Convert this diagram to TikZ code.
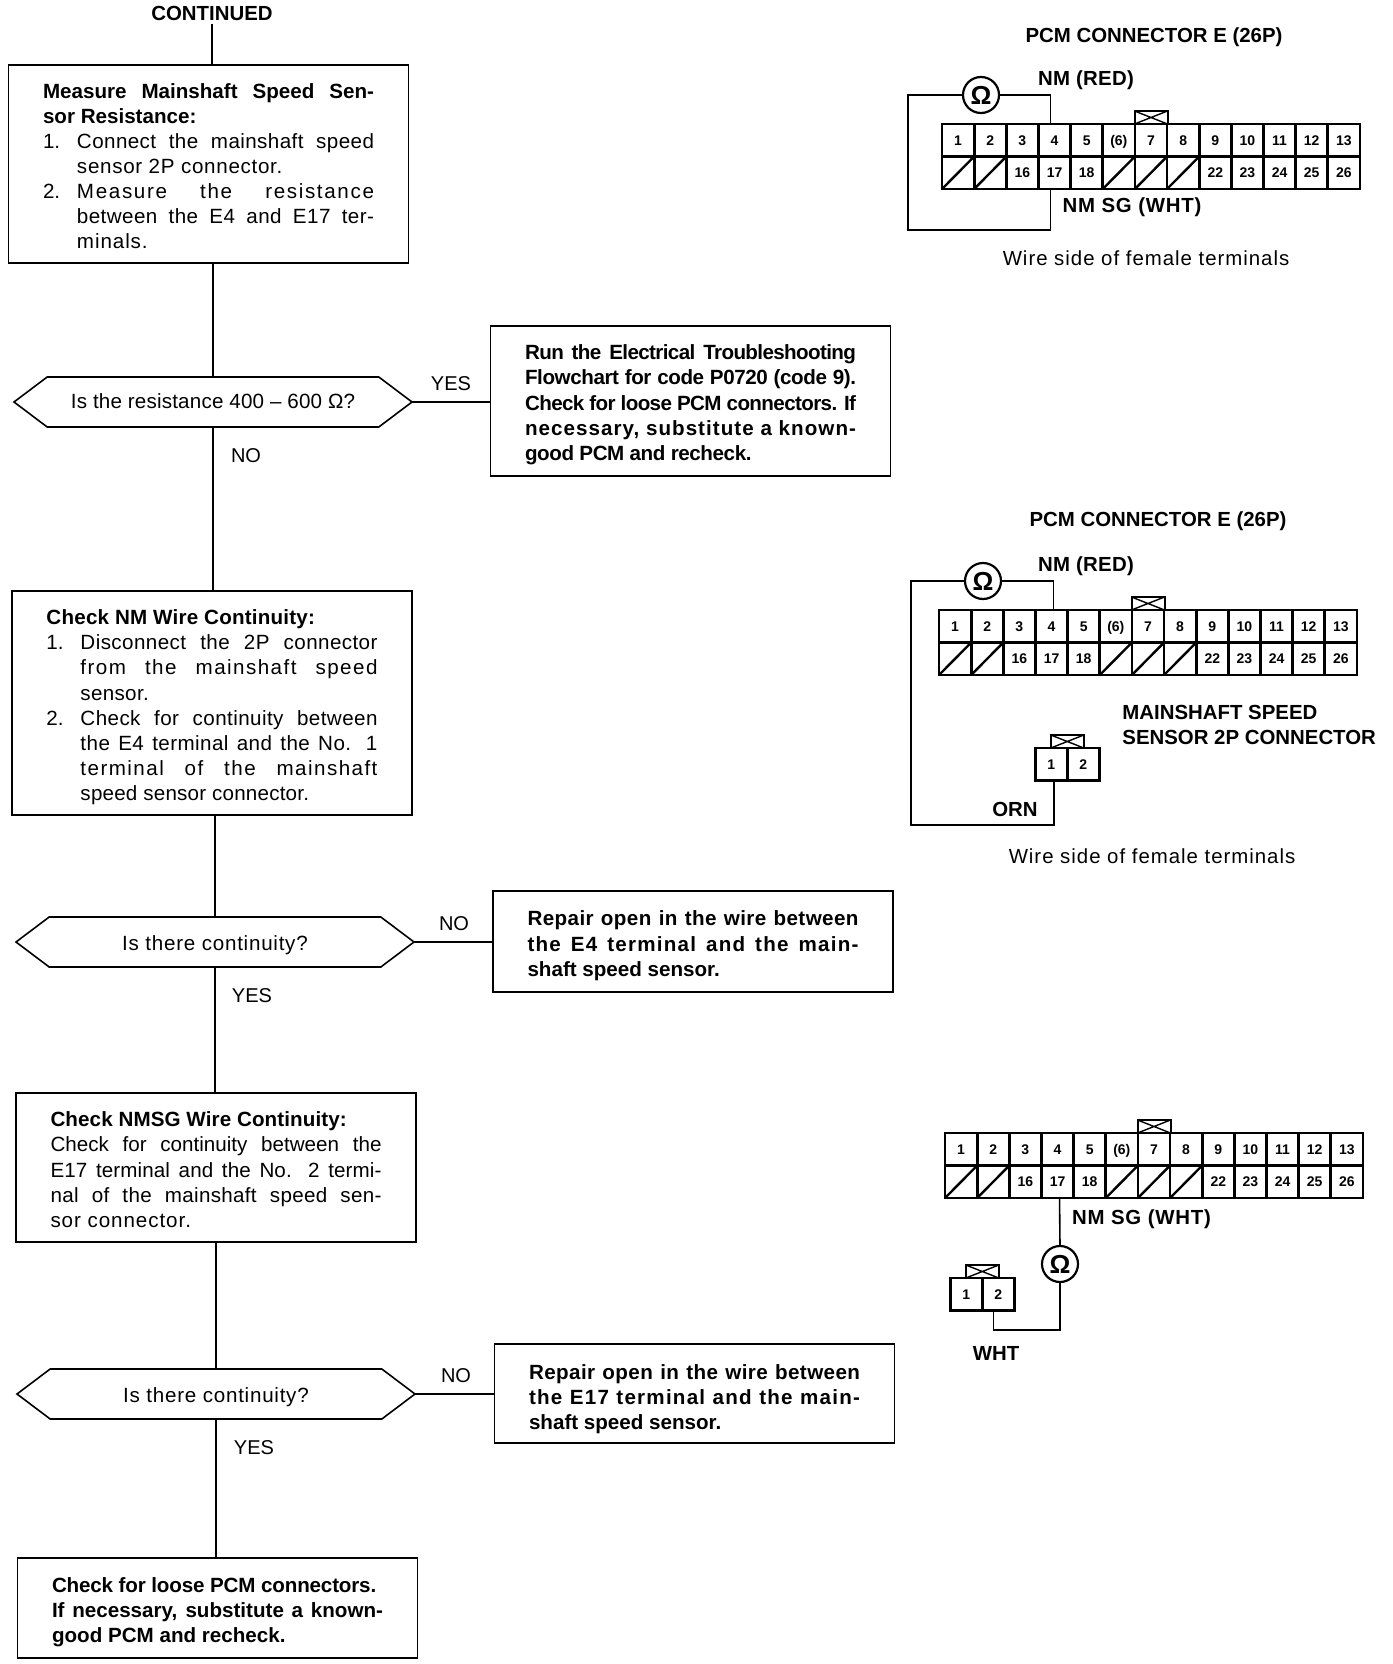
\documentclass[tikz,border=0pt]{standalone}
\usepackage{fontspec}
\setmainfont{Liberation Sans}
\usetikzlibrary{shapes.symbols,calc}
\newcommand{\bodyfont}{\fontsize{10.3}{12.55}\selectfont}
\newcommand{\spaced}[2][6]{{\addfontfeature{LetterSpace=#1}#2}}
\newcommand{\dropby}[1]{\rule{0pt}{\dimexpr 7.5pt+#1\relax}}
\newcommand{\hexlabel}[3]{\raisebox{#1}[0pt][0pt]{\spaced[#2]{#3}}}
\newcommand{\stepitem}[2]{\par\noindent\hangindent=17pt\hangafter=1\makebox[17pt][l]{#1}#2\par}
\tikzset{
  flowbox/.style={draw,line width=.8pt,inner sep=0pt,outer sep=0pt,minimum width=200pt,text width=165.5pt,align=justify,font=\bodyfont},
  hexbox/.style={draw,line width=.8pt,shape=signal,signal to=east and west,signal pointer angle=74,inner sep=0pt,outer sep=0pt,minimum width=199pt,minimum height=25pt,font=\bodyfont},
  link/.style={line width=.7pt},
  wire/.style={line width=.8pt},
  answer/.style={inner sep=0pt,font=\fontsize{10}{12}\selectfont},
  lab/.style={inner sep=0pt,align=left,font=\fontsize{10.2}{12.5}\selectfont\bfseries},
  note/.style={inner sep=0pt,font=\fontsize{10.2}{12}\selectfont},
  cell/.style={draw,line width=1.4pt,inner sep=0pt,outer sep=0pt,minimum width=16.07pt,minimum height=16.25pt,text height=5pt,text depth=0pt,font=\fontsize{7}{8}\selectfont\bfseries},
  tabbox/.style={draw,line width=1pt,inner sep=0pt,outer sep=0pt,minimum width=16.5pt,minimum height=6.5pt},
  ohmmeter/.style={draw,circle,line width=1.1pt,inner sep=0pt,outer sep=0pt,minimum size=18pt,font=\fontsize{13}{13}\selectfont\bfseries}
}
% tab with its cross, on top of a connector
\newcommand{\conntab}[3]{%
  \node[tabbox] (#1) at (#2,#3) {};
  \draw[line width=.7pt] (#1.north west) -- (#1.south east) (#1.south west) -- (#1.north east);
}
\newcommand{\pcmconn}[3]{%
  \foreach \lab [count=\n] in {1,2,3,4,5,{(6)},7,8,9,10,11,12,13}{% upper row
    \node[cell] (#1a\n) at ({#2+(\n-0.5)*32.15},{#3+16.25}) {\lab};
  }
  \foreach \n/\lab in {3/16,4/17,5/18,9/22,10/23,11/24,12/25,13/26}{% lower row
    \node[cell] (#1b\n) at ({#2+(\n-0.5)*32.15},{#3+48.75}) {\lab};
  }
  \foreach \n in {1,2,6,7,8}{% blanked cavities
    \node[cell] (#1b\n) at ({#2+(\n-0.5)*32.15},{#3+48.75}) {};
    \draw[line width=1.2pt] (#1b\n.south west) -- (#1b\n.north east);
  }
  \conntab{#1tab}{#2+209}{#3-6.5}
}
\newcommand{\twopconn}[3]{%
  \node[cell] (#1a1) at ({#2+16.25},{#3+16.25}) {1};
  \node[cell] (#1a2) at ({#2+48.35},{#3+16.25}) {2};
  \conntab{#1tab}{#2+32.3}{#3-6.5}
}
\begin{document}
\begin{tikzpicture}[x=0.5pt,y=-0.5pt]
    \useasboundingbox (0,0) rectangle (1392,1664);

    % flow chart, left column
    \node[lab] (continued) at (212,13) {CONTINUED};
    \node[flowbox,minimum height=99pt] (boxA) at (208.5,164) {\dropby{2.1pt}%
      \textbf{Measure Mainshaft Speed Sen-\linebreak sor Resistance:}
      \stepitem{1.}{\spaced[2]{Connect the mainshaft speed}\linebreak \spaced[3.4]{sensor 2P connector.}}
      \stepitem{2.}{\spaced[8]{Measure the resistance}\linebreak \spaced[2]{between the E4 and E17 ter-}\linebreak \spaced[4.4]{minals.}}};
    \node[hexbox] (hexA) at (213,402) {\hexlabel{-3.25pt}{.9}{Is the resistance 400 – 600 Ω?}};
    \node[flowbox,minimum height=75pt,font=\bodyfont\bfseries] (boxB) at (690.5,401) {\dropby{3.7pt}%
      \spaced[-3]{Run the Electrical Troubleshooting}\linebreak \spaced[-2]{Flowchart for code P0720 (code 9).}\linebreak \spaced[-3]{Check for loose PCM connectors. If}\linebreak \spaced[5]{necessary, substitute a known-}\linebreak \spaced[-2]{good PCM and recheck.}};
    \node[flowbox,minimum height=112pt] (boxC) at (212,703) {\dropby{4.2pt}%
      \textbf{\spaced[1]{Check NM Wire Continuity:}}
      \stepitem{1.}{\spaced[2]{Disconnect the 2P connector}\linebreak \spaced[7]{from the mainshaft speed}\linebreak \spaced[1.5]{sensor.}}
      \stepitem{2.}{\spaced[2]{Check for continuity between}\linebreak \spaced[2]{the E4 terminal and the No. 1}\linebreak \spaced[7]{terminal of the mainshaft}\linebreak \spaced[1]{speed sensor connector.}}};
    \node[hexbox] (hexB) at (215,942) {\hexlabel{-4.35pt}{3.6}{Is there continuity?}};
    \node[flowbox,minimum height=50.5pt,font=\bodyfont\bfseries] (boxD) at (693,941.5) {\dropby{4.2pt}%
      \spaced[2]{Repair open in the wire between}\linebreak \spaced[6]{the E4 terminal and the main-}\linebreak shaft speed sensor.};
    \node[flowbox,minimum height=74.5pt] (boxE) at (216,1167.5) {\dropby{2.1pt}%
      \textbf{\spaced[.5]{Check NMSG Wire Continuity:}}\par
      Check for continuity between the\linebreak \spaced[.5]{E17 terminal and the No. 2 termi-}\linebreak \spaced[1.5]{nal of the mainshaft speed sen-}\linebreak \spaced[4.5]{sor connector.}};
    \node[hexbox] (hexC) at (216,1394) {\hexlabel{-4.35pt}{3.6}{Is there continuity?}};
    \node[flowbox,minimum height=49.5pt,font=\bodyfont\bfseries] (boxF) at (694.5,1393.5) {\dropby{5.3pt}%
      \spaced[2]{Repair open in the wire between}\linebreak \spaced[6]{the E17 terminal and the main-}\linebreak shaft speed sensor.};
    \node[flowbox,minimum height=50pt,font=\bodyfont\bfseries] (boxG) at (217.5,1608) {\dropby{4.2pt}%
      \spaced[-.8]{Check for loose PCM connectors.}\par If necessary, substitute a known-\linebreak good PCM and recheck.};

    \draw[link] ([yshift=-1.5pt]continued.south) -- (continued.south |- boxA.north);
    \draw[link] (hexA.north |- boxA.south) -- (hexA.north);
    \draw[link] (hexA.east) -- (hexA.east -| boxB.west);
    \draw[link] (hexA.south) -- (hexA.south |- boxC.north);
    \draw[link] (hexB.north |- boxC.south) -- (hexB.north);
    \draw[link] (hexB.east) -- (hexB.east -| boxD.west);
    \draw[link] (hexB.south) -- (hexB.south |- boxE.north);
    \draw[link] (hexC.north |- boxE.south) -- (hexC.north);
    \draw[link] (hexC.east) -- (hexC.east -| boxF.west);
    \draw[link] (hexC.south) -- (hexC.south |- boxG.north);

    \node[answer] (yesA) at (451,384) {YES};
    \node[answer] (noA) at (246,456) {NO};
    \node[answer] (noB) at (454,924) {NO};
    \node[answer] (yesB) at (252,996) {YES};
    \node[answer] (noC) at (456,1376) {NO};
    \node[answer] (yesC) at (254,1448) {YES};

    % first test, both terminals at the PCM
    \node[lab] (titleA) at (1154,37) {PCM CONNECTOR E (26P)};
    \pcmconn{ca}{942}{124}
    \node[lab] (redA) at (1086,80) {\spaced[1.5]{NM (RED)}};
    \node[lab] (whtA) at (1132,207) {\spaced[3.8]{NM SG (WHT)}};
    \node[note] (sideA) at (1146,258) {\spaced[4.8]{Wire side of female terminals}};
    \node[ohmmeter] (ohmA) at (981,95) {Ω};
    \coordinate (cornerA) at (908,230);
    \draw[wire] ([xshift=-2pt]caa4.north) |- (ohmA.east);
    \draw[wire] (ohmA.west) -| (cornerA) -| ([xshift=-2pt]cab4.south);

    % second test, E4 to the sensor connector
    \node[lab] (titleB) at (1158,521) {PCM CONNECTOR E (26P)};
    \pcmconn{cb}{939}{610}
    \node[lab] (redB) at (1086,566) {\spaced[1.5]{NM (RED)}};
    \node[lab,anchor=west] (sensorB) at (1122,724.5) {MAINSHAFT SPEED\\SENSOR 2P CONNECTOR};
    \twopconn{sb}{1035}{748}
    \node[lab] (ornB) at (1015,809) {ORN};
    \node[note] (sideB) at (1152,856) {\spaced[4.8]{Wire side of female terminals}};
    \node[ohmmeter] (ohmB) at (983,581) {Ω};
    \coordinate (cornerB) at (911,825);
    \draw[wire] ([xshift=1pt]cba4.north) |- (ohmB.east);
    \draw[wire] (ohmB.west) -| (cornerB) -| ([xshift=1.5pt]sba1.south);

    % third test, E17 to the sensor connector
    \pcmconn{cc}{945}{1133}
    \node[lab] (whtC) at (1141.5,1219) {\spaced[3.8]{NM SG (WHT)}};
    \twopconn{sc}{950}{1278}
    \node[lab] (whtD) at (996,1353) {WHT};
    \node[ohmmeter] (ohmC) at (1060,1264) {Ω};
    \coordinate (cornerC) at (1060,1330);
    \draw[wire] ([xshift=1pt]ccb4.south) -- (ohmC.north);
    \draw[wire] (ohmC.south) -- (cornerC) -| ([xshift=-2.5pt]sca2.south);

\end{tikzpicture}
\end{document}
